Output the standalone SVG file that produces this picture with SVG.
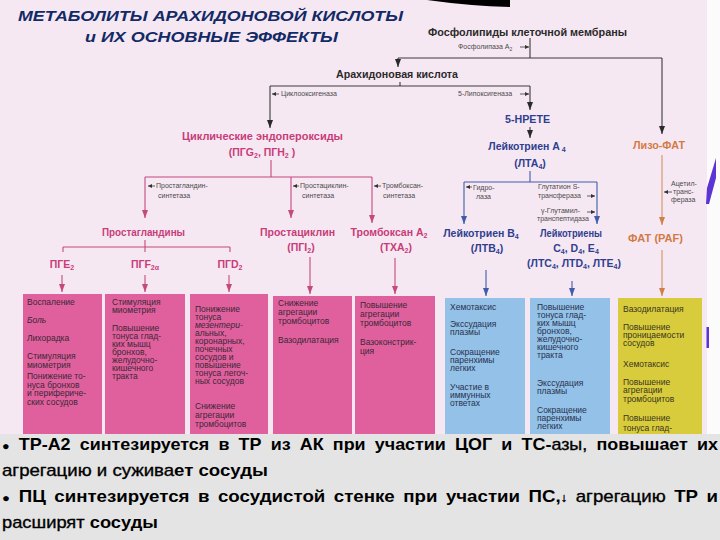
<svg xmlns="http://www.w3.org/2000/svg" width="720" height="540" viewBox="0 0 720 540">
<defs>
<style>
text{font-family:"Liberation Sans",Arial,"DejaVu Sans",sans-serif}
.ttl{font-size:15px;font-weight:bold;font-style:italic;fill:#122a66}
.lbl{font-size:10.5px;font-weight:bold}
.sub{font-size:7px}
.dk{fill:#2a2a2a}
.mg{fill:#c83c78}
.bl{fill:#2f3f8f}
.or{fill:#d27a44}
.enz{font-size:7px;fill:#4a4a4a}
.bx{font-size:8.5px;fill:#3a2834}
.bxb{font-size:8.5px;fill:#28314c}
.bxy{font-size:8.5px;fill:#3a3520}
.it{font-style:italic}
.ln{fill:none;stroke-width:1.1}
.c-dk{stroke:#3a3a3a}
.c-mg{stroke:#c4497c}
.c-bl{stroke:#3f5ca8}
.c-or{stroke:#d49262}
.sa{stroke-width:0.8}
.ft{font-size:17px;font-weight:bold;fill:#000}
.lt{font-weight:normal;stroke:#000;stroke-width:0.35}
.pk{fill:#e0609e}
.bu{fill:#93c1e8}
.ye{fill:#d8cc3c}
</style>
<marker id="ah-dk" viewBox="0 0 8 6" refX="8" refY="3" markerWidth="8" markerHeight="6" markerUnits="userSpaceOnUse" orient="auto"><path d="M0,0 L8,3 L0,6 z" fill="#2a2a2a"/></marker>
<marker id="ah-mg" viewBox="0 0 8 6" refX="8" refY="3" markerWidth="8" markerHeight="6" markerUnits="userSpaceOnUse" orient="auto"><path d="M0,0 L8,3 L0,6 z" fill="#c4497c"/></marker>
<marker id="ah-bl" viewBox="0 0 8 6" refX="8" refY="3" markerWidth="8" markerHeight="6" markerUnits="userSpaceOnUse" orient="auto"><path d="M0,0 L8,3 L0,6 z" fill="#3f5ca8"/></marker>
<marker id="ah-or" viewBox="0 0 8 6" refX="8" refY="3" markerWidth="8" markerHeight="6" markerUnits="userSpaceOnUse" orient="auto"><path d="M0,0 L8,3 L0,6 z" fill="#d07f45"/></marker>
<marker id="sa-dk" viewBox="0 0 4 4" refX="4" refY="2" markerWidth="4" markerHeight="4" markerUnits="userSpaceOnUse" orient="auto"><path d="M0,0 L4,2 L0,4 z" fill="#333"/></marker>
</defs>

<!-- backgrounds -->
<rect x="0" y="0" width="720" height="540" fill="#fbfbfb"/>
<rect x="0" y="0" width="707" height="434" fill="#f6e8f3"/>
<path d="M427,0 L510,0 L510,7 Q470,6 427,0 Z" fill="#000"/>
<polygon points="706,204 707,188 716,158 716,178 709,204" fill="#5b34d4"/>
<rect x="706.5" y="327" width="2.5" height="21" fill="#5b34d4"/>

<g id="title">
<text class="ttl" x="18" y="21" textLength="385" lengthAdjust="spacingAndGlyphs">МЕТАБОЛИТЫ АРАХИДОНОВОЙ КИСЛОТЫ</text>
<text class="ttl" x="85" y="42" textLength="253" lengthAdjust="spacingAndGlyphs">и ИХ ОСНОВНЫЕ ЭФФЕКТЫ</text>
</g>

<g id="connectors">
<path class="ln c-dk" d="M530,38 V58 M398,58 H662 M400,82 V86 M270,86 H530"/>
<path class="ln c-dk" d="M398,58 V67" marker-end="url(#ah-dk)"/>
<path class="ln c-dk" d="M662,58 V134" marker-end="url(#ah-dk)"/>
<path class="ln c-dk" d="M270,86 V128" marker-end="url(#ah-dk)"/>
<path class="ln c-dk" d="M530,86 V110" marker-end="url(#ah-dk)"/>
<path class="ln c-dk" d="M530,127 V138" marker-end="url(#ah-dk)"/>
<path class="ln c-dk sa" d="M520,47 H529" marker-end="url(#sa-dk)"/>
<path class="ln c-dk sa" d="M520,94 H529" marker-end="url(#sa-dk)"/>
<path class="ln c-dk sa" d="M279,94 H272" marker-end="url(#sa-dk)"/>

<path class="ln c-mg" d="M271,160 V177 M145,177 H372 M145,240 V252 M63,247 H230 M63,247 V252 M230,247 V252"/>
<path class="ln c-mg" d="M145,177 V218" marker-end="url(#ah-mg)"/>
<path class="ln c-mg" d="M291,177 V218" marker-end="url(#ah-mg)"/>
<path class="ln c-mg" d="M372,177 V223" marker-end="url(#ah-mg)"/>
<path class="ln c-mg" d="M62,275 V292" marker-end="url(#ah-mg)"/>
<path class="ln c-mg" d="M145,275 V292" marker-end="url(#ah-mg)"/>
<path class="ln c-mg" d="M229,275 V292" marker-end="url(#ah-mg)"/>
<path class="ln c-mg" d="M310,257 V294" marker-end="url(#ah-mg)"/>
<path class="ln c-mg" d="M395,258 V294" marker-end="url(#ah-mg)"/>
<path class="ln c-dk sa" d="M155,186 H148" marker-end="url(#sa-dk)"/>
<path class="ln c-dk sa" d="M299,186 H293" marker-end="url(#sa-dk)"/>
<path class="ln c-dk sa" d="M381,186 H374" marker-end="url(#sa-dk)"/>

<path class="ln c-bl" d="M530,171 V182 M464,182 H597"/>
<path class="ln c-bl" d="M464,182 V224" marker-end="url(#ah-bl)"/>
<path class="ln c-bl" d="M597,182 V224" marker-end="url(#ah-bl)"/>
<path class="ln c-bl" d="M486,270 V296" marker-end="url(#ah-bl)"/>
<path class="ln c-bl" d="M572,281 V296" marker-end="url(#ah-bl)"/>
<path class="ln c-dk sa" d="M472,187 H466" marker-end="url(#sa-dk)"/>
<path class="ln c-dk sa" d="M587,196 H595" marker-end="url(#sa-dk)"/>
<path class="ln c-dk sa" d="M587,212 H595" marker-end="url(#sa-dk)"/>

<path class="ln c-or" d="M662,155 V225" marker-end="url(#ah-or)"/>
<path class="ln c-or" d="M662,250 V296" marker-end="url(#ah-or)"/>
<path class="ln c-dk sa" d="M672,192 H664" marker-end="url(#sa-dk)"/>

<text class="enz" x="458" y="49">Фосфолипаза А<tspan font-size="5" dy="1.5">2</tspan></text>
<text class="enz" x="458" y="96">5-Липоксигеназа</text>
<text class="enz" x="281" y="96">Циклооксигеназа</text>
<text class="enz" x="156" y="188">Простагландин-</text>
<text class="enz" x="158" y="198">синтетаза</text>
<text class="enz" x="300" y="188">Простациклин-</text>
<text class="enz" x="302" y="198">синтетаза</text>
<text class="enz" x="382" y="188">Тромбоксан-</text>
<text class="enz" x="383" y="198">синтетаза</text>
<text class="enz" x="473" y="190">Гидро-</text>
<text class="enz" x="476" y="199">лаза</text>
<text class="enz" x="538" y="189">Глутатион S-</text>
<text class="enz" x="538" y="198">трансфераза</text>
<text class="enz" x="541" y="213">γ-Глутамил-</text>
<text class="enz" x="537" y="221">транспептидаза</text>
<text class="enz" x="671" y="186">Ацетил-</text>
<text class="enz" x="673" y="194">транс-</text>
<text class="enz" x="671" y="202">фераза</text>
</g>

<g id="n-phospholipids"><text class="lbl dk" x="428" y="36" textLength="199" lengthAdjust="spacingAndGlyphs">Фосфолипиды клеточной мембраны</text></g>
<g id="n-aa"><text class="lbl dk" x="336" y="78" textLength="122" lengthAdjust="spacingAndGlyphs">Арахидоновая кислота</text></g>
<g id="n-cyclic">
<text class="lbl mg" x="182" y="140" textLength="161" lengthAdjust="spacingAndGlyphs">Циклические эндопероксиды</text>
<text class="lbl mg" x="262" y="156" text-anchor="middle">(ПГG<tspan class="sub" dy="2">2</tspan><tspan dy="-2">, ПГН</tspan><tspan class="sub" dy="2">2</tspan><tspan dy="-2"> )</tspan></text>
</g>
<g id="n-5hpete"><text class="lbl bl" x="505" y="123" textLength="45" lengthAdjust="spacingAndGlyphs">5-HPETE</text></g>
<g id="n-lta4">
<text class="lbl bl" x="527" y="150" text-anchor="middle">Лейкотриен А<tspan class="sub" dy="2"> 4</tspan></text>
<text class="lbl bl" x="530" y="167" text-anchor="middle">(ЛТА<tspan class="sub" dy="2">4</tspan><tspan dy="-2">)</tspan></text>
</g>
<g id="n-lizofat"><text class="lbl or" x="633" y="149" textLength="52" lengthAdjust="spacingAndGlyphs">Лизо-ФАТ</text></g>
<g id="n-pg"><text class="lbl mg" x="102" y="236" textLength="83" lengthAdjust="spacingAndGlyphs">Простагландины</text></g>
<g id="n-pge2"><text class="lbl mg" x="62" y="268" text-anchor="middle">ПГЕ<tspan class="sub" dy="2">2</tspan></text></g>
<g id="n-pgf2a"><text class="lbl mg" x="145" y="268" text-anchor="middle">ПГF<tspan class="sub" dy="2">2α</tspan></text></g>
<g id="n-pgd2"><text class="lbl mg" x="230" y="268" text-anchor="middle">ПГD<tspan class="sub" dy="2">2</tspan></text></g>
<g id="n-pgi2">
<text class="lbl mg" x="260" y="236" textLength="75" lengthAdjust="spacingAndGlyphs">Простациклин</text>
<text class="lbl mg" x="301" y="251" text-anchor="middle">(ПГI<tspan class="sub" dy="2">2</tspan><tspan dy="-2">)</tspan></text>
</g>
<g id="n-txa2">
<text class="lbl mg" x="389" y="236" text-anchor="middle">Тромбоксан А<tspan class="sub" dy="2">2</tspan></text>
<text class="lbl mg" x="396" y="251" text-anchor="middle">(ТХА<tspan class="sub" dy="2">2</tspan><tspan dy="-2">)</tspan></text>
</g>
<g id="n-ltb4">
<text class="lbl bl" x="481" y="237" text-anchor="middle">Лейкотриен В<tspan class="sub" dy="2">4</tspan></text>
<text class="lbl bl" x="487" y="252" text-anchor="middle">(ЛТВ<tspan class="sub" dy="2">4</tspan><tspan dy="-2">)</tspan></text>
</g>
<g id="n-ltcde">
<text class="lbl bl" x="540" y="237" textLength="62" lengthAdjust="spacingAndGlyphs">Лейкотриены</text>
<text class="lbl bl" x="576" y="252" text-anchor="middle">С<tspan class="sub" dy="2">4</tspan><tspan dy="-2">, D</tspan><tspan class="sub" dy="2">4</tspan><tspan dy="-2">, Е</tspan><tspan class="sub" dy="2">4</tspan></text>
<text class="lbl bl" x="574" y="267" text-anchor="middle">(ЛТС<tspan class="sub" dy="2">4</tspan><tspan dy="-2">, ЛТD</tspan><tspan class="sub" dy="2">4</tspan><tspan dy="-2">, ЛТЕ</tspan><tspan class="sub" dy="2">4</tspan><tspan dy="-2">)</tspan></text>
</g>
<g id="n-fat"><text class="lbl or" x="628" y="242" textLength="55" lengthAdjust="spacingAndGlyphs">ФАТ (PAF)</text></g>

<g id="b1"><rect class="pk" x="23" y="294" width="79" height="140"/>
<text class="bx"><tspan x="27" y="305">Воспаление</tspan><tspan x="27" y="323" class="it">Боль</tspan><tspan x="27" y="341">Лихорадка</tspan><tspan x="27" y="359">Стимуляция</tspan><tspan x="27" y="367.5">миометрия</tspan><tspan x="27" y="379">Понижение то-</tspan><tspan x="27" y="387.5">нуса бронхов</tspan><tspan x="27" y="396">и перифериче-</tspan><tspan x="27" y="404.5">ских сосудов</tspan></text></g>
<g id="b2"><rect class="pk" x="105" y="294" width="80" height="140"/>
<text class="bx"><tspan x="112" y="305">Стимуляция</tspan><tspan x="112" y="313">миометрия</tspan><tspan x="112" y="331">Повышение</tspan><tspan x="112" y="339">тонуса глад-</tspan><tspan x="112" y="347">ких мышц</tspan><tspan x="112" y="355">бронхов,</tspan><tspan x="112" y="363">желудочно-</tspan><tspan x="112" y="371">кишечного</tspan><tspan x="112" y="379">тракта</tspan></text></g>
<g id="b3"><rect class="pk" x="190" y="294" width="78" height="140"/>
<text class="bx"><tspan x="195" y="312">Понижение</tspan><tspan x="195" y="320">тонуса</tspan><tspan x="195" y="328" class="it">мезентери-</tspan><tspan x="195" y="336">альных,</tspan><tspan x="195" y="344">коронарных,</tspan><tspan x="195" y="352">почечных</tspan><tspan x="195" y="360">сосудов и</tspan><tspan x="195" y="368">повышение</tspan><tspan x="195" y="376">тонуса легоч-</tspan><tspan x="195" y="384">ных сосудов</tspan><tspan x="195" y="409">Снижение</tspan><tspan x="195" y="418">агрегации</tspan><tspan x="195" y="427">тромбоцитов</tspan></text></g>
<g id="b4"><rect class="pk" x="273" y="296" width="79" height="138"/>
<text class="bx"><tspan x="278" y="306">Снижение</tspan><tspan x="278" y="315">агрегации</tspan><tspan x="278" y="324">тромбоцитов</tspan><tspan x="278" y="343">Вазодилатация</tspan></text></g>
<g id="b5"><rect class="pk" x="355" y="296" width="80" height="138"/>
<text class="bx"><tspan x="360" y="308">Повышение</tspan><tspan x="360" y="317">агрегации</tspan><tspan x="360" y="326">тромбоцитов</tspan><tspan x="360" y="345">Вазоконстрик-</tspan><tspan x="360" y="354">ция</tspan></text></g>
<g id="b6"><rect class="bu" x="445" y="298" width="80" height="136"/>
<text class="bxb"><tspan x="450" y="310">Хемотаксис</tspan><tspan x="450" y="327">Экссудация</tspan><tspan x="450" y="335">плазмы</tspan><tspan x="450" y="355">Сокращение</tspan><tspan x="450" y="363">паренхимы</tspan><tspan x="450" y="371">легких</tspan><tspan x="450" y="390">Участие в</tspan><tspan x="450" y="398">иммунных</tspan><tspan x="450" y="406">ответах</tspan></text></g>
<g id="b7"><rect class="bu" x="530" y="298" width="80" height="136"/>
<text class="bxb"><tspan x="537" y="310">Повышение</tspan><tspan x="537" y="318">тонуса глад-</tspan><tspan x="537" y="326">ких мышц</tspan><tspan x="537" y="334">бронхов,</tspan><tspan x="537" y="342">желудочно-</tspan><tspan x="537" y="350">кишечного</tspan><tspan x="537" y="358">тракта</tspan><tspan x="537" y="386">Экссудация</tspan><tspan x="537" y="394">плазмы</tspan><tspan x="537" y="413">Сокращение</tspan><tspan x="537" y="421">паренхимы</tspan><tspan x="537" y="429">легких</tspan></text></g>
<g id="b8"><rect class="ye" x="618" y="298" width="84" height="136"/>
<text class="bxy"><tspan x="623" y="312">Вазодилатация</tspan><tspan x="623" y="330">Повышение</tspan><tspan x="623" y="338">проницаемости</tspan><tspan x="623" y="346">сосудов</tspan><tspan x="623" y="367">Хемотаксис</tspan><tspan x="623" y="385">Повышение</tspan><tspan x="623" y="393">агрегации</tspan><tspan x="623" y="402">тромбоцитов</tspan><tspan x="623" y="421">Повышение</tspan><tspan x="623" y="431">тонуса глад-</tspan></text></g>

<g id="notes">
<rect x="0" y="434" width="720" height="106" fill="#e4e4e4"/>
<text class="ft" x="2" y="450" word-spacing="4" textLength="716" lengthAdjust="spacingAndGlyphs"><tspan font-size="12">●</tspan> ТР-А2 синтезируется в ТР из АК при участии ЦОГ и ТС-<tspan class="lt">азы,</tspan> повышает их</text>
<text class="ft" x="2" y="476" textLength="266" lengthAdjust="spacingAndGlyphs"><tspan class="lt">агрегацию и сужива</tspan>ет сосуды</text>
<text class="ft" x="2" y="502" word-spacing="3" textLength="716" lengthAdjust="spacingAndGlyphs"><tspan font-size="12">●</tspan><tspan dx="8">ПЦ</tspan> синтезируется в сосудистой стенке при участии ПС,<tspan class="lt" font-size="12">↓</tspan> <tspan class="lt">агрегацию</tspan> ТР и</text>
<text class="ft" x="2" y="528" textLength="156" lengthAdjust="spacingAndGlyphs"><tspan class="lt">расширят</tspan> сосуды</text>
</g>
</svg>
